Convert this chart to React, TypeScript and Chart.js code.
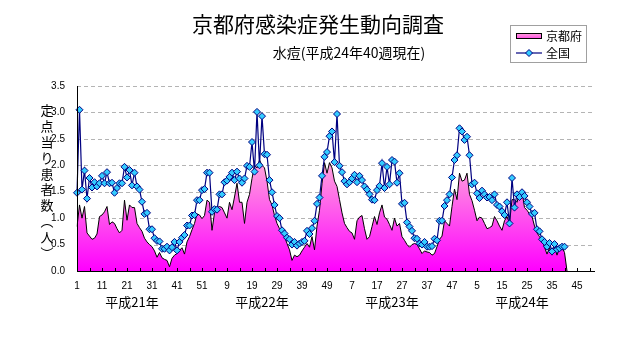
import React, { useEffect, useRef } from "react";
import { Chart, registerables } from "chart.js";
Chart.register(...registerables);

const chartTitle = "京都府感染症発生動向調査";
const chartSubtitle = "水痘(平成24年40週現在)";
const yTitleChars = ["定", "点", "当", "り", "患", "者", "数", "︵", "人", "︶"];
const years = ["平成21年", "平成22年", "平成23年", "平成24年"];
const weeksPerYear = 52;
const yTicks = [0, 0.5, 1.0, 1.5, 2.0, 2.5, 3.0, 3.5];

const weekLabels: string[] = [];
years.forEach(() => {
  for (let w = 1; w <= weeksPerYear; w++) weekLabels.push(String(w));
});

// 全国 (national) per-sentinel values, H21 week 1 .. H24 week 40
const national = [
  1.48, 3.05, 1.54, 1.9, 1.37, 1.76, 1.58, 1.68, 1.6, 1.66,
  1.8, 1.66, 1.87, 1.66, 1.67, 1.48, 1.57, 1.66, 1.66, 1.97,
  1.77, 1.91, 1.62, 1.86, 1.6, 1.54, 1.31, 1.08, 1.1, 0.79,
  0.79, 0.62, 0.57, 0.56, 0.42, 0.42, 0.46, 0.39, 0.45, 0.55,
  0.39, 0.55, 0.63, 0.68, 0.86, 0.86, 1.05, 1.06, 1.34, 1.34,
  1.53, 1.55, 1.86, 1.86, 1.12, 1.17, 1.16, 1.45, 1.45, 1.68,
  1.71, 1.78, 1.86, 1.72, 1.88, 1.75, 1.67, 1.75, 1.99, 1.97,
  2.44, 1.88, 3.01, 2.0, 2.93, 2.21, 2.2, 1.72, 1.49, 1.25,
  1.04, 1.0, 0.77, 0.71, 0.63, 0.6, 0.5, 0.55, 0.48, 0.52,
  0.55, 0.57, 0.76, 0.7, 0.81, 0.95, 1.27, 1.39, 1.8, 2.16,
  2.25, 2.55, 2.64, 2.06, 2.97, 1.99, 1.87, 1.7, 1.64, 1.68,
  1.75, 1.82, 1.68, 1.8, 1.72, 1.6, 1.54, 1.45, 1.35, 1.34,
  1.53, 1.61, 2.04, 1.57, 1.97, 1.64, 2.1, 2.07, 1.67, 1.85,
  1.27, 1.29, 0.92, 0.84, 0.76, 0.62, 0.61, 0.52, 0.5, 0.55,
  0.46, 0.46, 0.47, 0.61, 0.58, 0.95, 0.95, 1.23, 1.34, 1.45,
  1.77, 2.1, 2.19, 2.7, 2.64, 2.48, 2.54, 2.19, 1.64, 1.67,
  1.47, 1.38, 1.52, 1.45, 1.39, 1.4, 1.34, 1.45, 1.25, 1.22,
  1.13, 1.06, 1.3, 0.9, 1.76, 1.2, 1.45, 1.4, 1.49, 1.42,
  1.3, 1.22, 1.08, 1.1, 0.79, 0.75, 0.6, 0.55, 0.46, 0.53,
  0.37, 0.51, 0.41, 0.43, 0.46, 0.46,
];

// 京都府 (Kyoto) per-sentinel values, H21 week 1 .. H24 week 41
const kyoto = [
  0.84, 1.25, 1.0, 1.22, 0.72, 0.66, 0.6, 0.62, 0.7, 1.03,
  1.06, 1.12, 1.22, 0.88, 0.93, 0.9, 0.8, 0.72, 0.77, 1.34,
  0.96, 1.25, 1.2, 1.2, 0.9, 0.82, 0.75, 0.62, 0.55, 0.5,
  0.46, 0.38, 0.26, 0.35, 0.25, 0.22, 0.2, 0.08, 0.24, 0.3,
  0.33, 0.39, 0.44, 0.32, 0.55, 0.65, 0.78, 0.9, 1.08, 1.06,
  0.99, 1.05, 1.34, 1.3, 0.77, 1.1, 1.2, 1.22, 1.2, 1.1,
  1.0, 1.3, 1.16, 1.4, 1.66, 1.3, 1.3, 0.9, 1.3, 1.45,
  1.75, 2.0, 1.95, 2.1, 2.0, 1.95, 1.7, 1.35, 1.25, 1.05,
  0.9, 0.8, 0.72, 0.65, 0.52, 0.4, 0.2, 0.3, 0.27, 0.3,
  0.38, 0.45, 0.52, 0.45, 0.65, 0.4, 0.85, 1.15, 1.65, 2.05,
  1.85, 2.05, 1.95, 1.7, 1.6, 1.35, 1.1, 0.9, 0.82, 0.75,
  0.72, 0.6, 0.95, 1.02, 1.05, 0.8, 0.6, 0.65, 0.84, 1.03,
  0.88, 1.1, 1.25, 1.02, 0.98, 0.88, 0.77, 1.0, 0.85, 0.9,
  0.65, 0.58, 0.5, 0.45, 0.5, 0.52, 0.5, 0.42, 0.33, 0.38,
  0.36, 0.35, 0.3, 0.33, 0.46, 0.6, 0.66, 0.95, 0.9, 0.85,
  1.22, 1.55, 1.35, 1.85, 1.7, 1.72, 1.85, 1.45, 1.33, 1.15,
  0.95, 1.02, 1.0, 0.9, 0.8, 0.82, 0.85, 1.03, 0.95, 0.85,
  0.77, 0.95, 1.03, 0.9, 1.35, 1.35, 1.3, 1.47, 1.5, 1.2,
  1.15, 1.08, 1.03, 0.85, 0.72, 0.65, 0.58, 0.45, 0.32, 0.44,
  0.3, 0.45, 0.3, 0.43, 0.45, 0.35, 0,
];

const JP = "'Noto Sans CJK JP', 'Noto Sans', sans-serif";
const NUM = "'Liberation Sans', Arial, sans-serif";

const decor = {
  id: "decor",
  beforeDatasetsDraw(chart: any) {
    const { ctx, chartArea, scales } = chart;
    const y = scales.y;
    ctx.save();
    ctx.strokeStyle = "#B4B4B4";
    ctx.lineWidth = 1;
    ctx.setLineDash([4, 3]);
    yTicks.forEach((v) => {
      if (v === 0) return;
      const py = Math.round(y.getPixelForValue(v)) + 0.5;
      ctx.beginPath();
      ctx.moveTo(chartArea.left, py);
      ctx.lineTo(chartArea.right, py);
      ctx.stroke();
    });
    ctx.restore();
  },
  afterDraw(chart: any) {
    const { ctx, chartArea, scales } = chart;
    const x = scales.x;
    ctx.save();
    // inside tick marks every 5 weeks
    ctx.strokeStyle = "#000";
    ctx.lineWidth = 1;
    for (let i = 0; i < weekLabels.length; i += 5) {
      const px = Math.round(x.getPixelForValue(i)) + 0.5;
      ctx.beginPath();
      ctx.moveTo(px, chartArea.bottom);
      ctx.lineTo(px, chartArea.bottom - 3);
      ctx.stroke();
    }
    ctx.fillStyle = "#000";
    ctx.textBaseline = "middle";
    ctx.textAlign = "center";
    // year labels
    ctx.font = `13px ${JP}`;
    years.forEach((yl, k) => {
      const px = x.getPixelForValue(k * weeksPerYear + 22);
      ctx.fillText(yl, px, 302);
    });
    // title & subtitle
    ctx.font = `21px ${JP}`;
    ctx.fillText(chartTitle, 318, 24);
    ctx.font = `14px ${JP}`;
    ctx.fillText(chartSubtitle, 349, 53);
    // y-axis title (vertical)
    ctx.font = `13px ${JP}`;
    yTitleChars.forEach((c, k) => {
      ctx.fillText(c, 47, 110 + k * 15.9);
    });
    // legend
    ctx.strokeStyle = "#A0A0A0";
    ctx.lineWidth = 1;
    ctx.strokeRect(510.5, 25.5, 76, 37);
    const g = ctx.createLinearGradient(0, 33, 0, 40);
    g.addColorStop(0, "#FFA8DC");
    g.addColorStop(1, "#FF33E6");
    ctx.fillStyle = g;
    ctx.fillRect(516, 33, 26, 6);
    ctx.strokeStyle = "#000";
    ctx.strokeRect(516.5, 33.5, 25, 5);
    ctx.strokeStyle = "#000080";
    ctx.lineWidth = 1.2;
    ctx.beginPath();
    ctx.moveTo(516, 53);
    ctx.lineTo(542, 53);
    ctx.stroke();
    ctx.beginPath();
    ctx.moveTo(529 - 3.5, 53);
    ctx.lineTo(529, 53 - 3.5);
    ctx.lineTo(529 + 3.5, 53);
    ctx.lineTo(529, 53 + 3.5);
    ctx.closePath();
    ctx.fillStyle = "#33CCFF";
    ctx.fill();
    ctx.lineWidth = 1;
    ctx.stroke();
    ctx.fillStyle = "#000";
    ctx.textAlign = "left";
    ctx.font = `12px ${JP}`;
    ctx.fillText("京都府", 546, 36);
    ctx.fillText("全国", 546, 53);
    ctx.restore();
  },
};

export default function App() {
  const ref = useRef<HTMLCanvasElement>(null);
  useEffect(() => {
    const canvas = ref.current!;
    const kyotoMax = Math.max(...kyoto);
    const chart = new Chart(canvas, {
      type: "line",
      data: {
        labels: weekLabels,
        datasets: [
          {
            label: "全国",
            data: national,
            borderColor: "#000080",
            borderWidth: 1.2,
            pointStyle: "rectRot",
            pointRadius: 3.5,
            pointBackgroundColor: "#33CCFF",
            pointBorderColor: "#000080",
            pointBorderWidth: 1,
            fill: false,
            tension: 0,
            order: 1,
            clip: false,
          } as any,
          {
            label: "京都府",
            data: kyoto,
            borderColor: "#000000",
            borderWidth: 1,
            pointRadius: 0,
            fill: "origin",
            tension: 0,
            order: 2,
            backgroundColor: (c: any) => {
              const ch = c.chart;
              const area = ch.chartArea;
              if (!area) return "#FF66DD";
              const top = ch.scales.y.getPixelForValue(kyotoMax);
              const g = ch.ctx.createLinearGradient(0, top, 0, area.bottom);
              g.addColorStop(0, "#FFA8DC");
              g.addColorStop(1, "#FF00FF");
              return g;
            },
          } as any,
        ],
      },
      options: {
        responsive: false,
        animation: false,
        events: [],
        layout: { padding: { top: 86, right: 37.5, left: 0, bottom: 0 } },
        plugins: {
          legend: { display: false },
          tooltip: { enabled: false },
          title: { display: false },
        },
        scales: {
          x: {
            type: "category",
            offset: false,
            grid: { display: false, drawTicks: false },
            border: { display: true, color: "#000", width: 1, z: 1 },
            ticks: {
              autoSkip: false,
              maxRotation: 0,
              minRotation: 0,
              padding: 9,
              color: "#000",
              font: { size: 10, family: NUM },
              callback: (_v: any, i: number) => (i % 10 === 0 ? weekLabels[i] : ""),
            },
            afterFit: (s: any) => {
              s.height = 77;
            },
          },
          y: {
            min: 0,
            max: 3.5,
            grid: { display: false, drawTicks: false },
            border: { display: true, color: "#000", width: 1, z: 1 },
            ticks: {
              stepSize: 0.5,
              padding: 12,
              color: "#000",
              font: { size: 10, family: NUM },
              callback: (v: any) => Number(v).toFixed(1),
            },
            afterFit: (s: any) => {
              s.width = 77;
            },
          },
        },
      } as any,
      plugins: [decor],
    });
    return () => chart.destroy();
  }, []);
  return (
    <div style={{ position: "fixed", left: 0, top: 0, width: 632, height: 348, background: "#fff" }}>
      <canvas ref={ref} width={632} height={348} style={{ display: "block" }} />
    </div>
  );
}
